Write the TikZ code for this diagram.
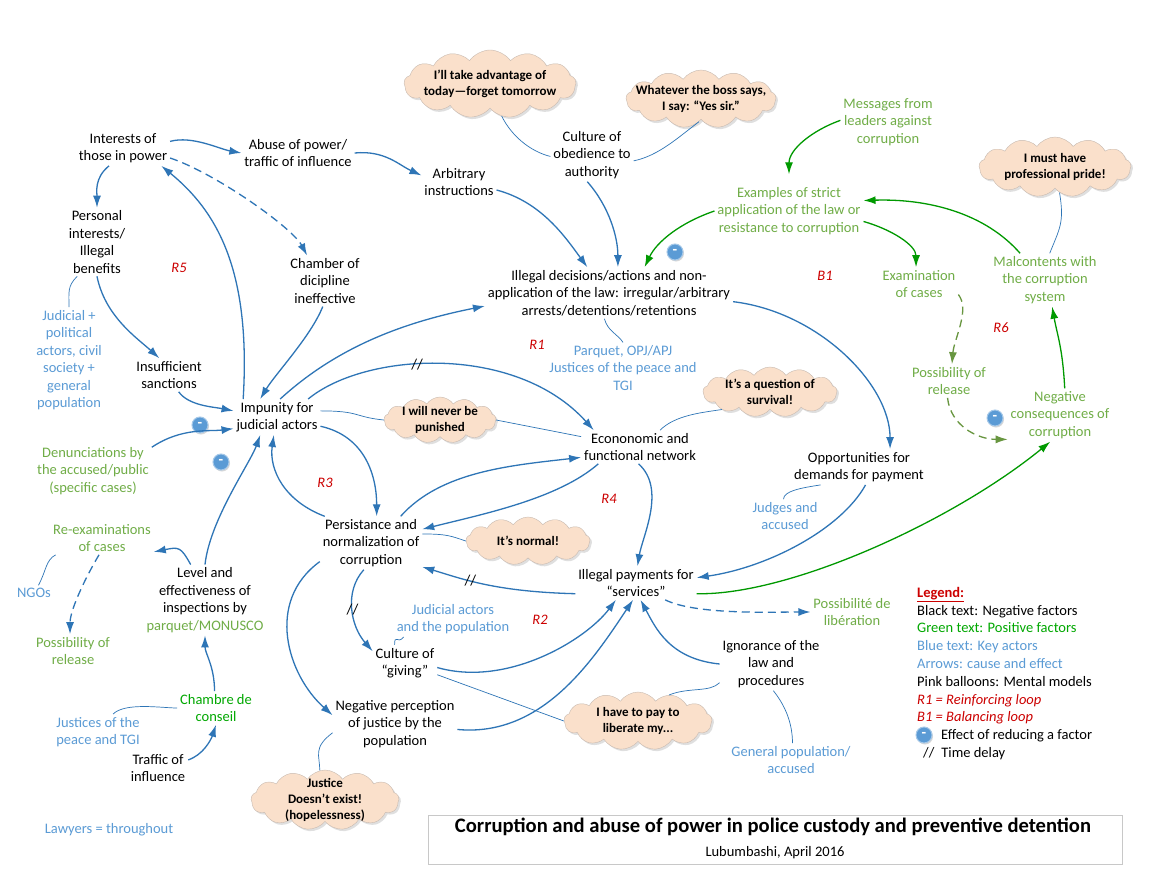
\documentclass[tikz,border=0pt]{standalone}
\usepackage{fontspec}
\setmainfont{Carlito}
\usepackage{tikz}
\usetikzlibrary{arrows.meta,shapes.symbols,shadows}
\definecolor{arrowblue}{RGB}{46,117,182}
\definecolor{actorblue}{RGB}{91,155,213}
\definecolor{goodgreen}{RGB}{112,173,71}
\definecolor{arrowgreen}{RGB}{0,153,0}
\definecolor{dashgreen}{RGB}{104,150,64}
\definecolor{brightgreen}{RGB}{0,168,0}
\definecolor{loopred}{RGB}{204,0,0}
\definecolor{balloonfill}{RGB}{250,224,203}
\definecolor{balloondraw}{RGB}{200,186,176}
\definecolor{boxgray}{RGB}{200,200,200}

\begin{document}
\begin{tikzpicture}[x=1pt, y=-1pt,
	factor/.style={align=center, font=\fontsize{14.5}{17.5}\selectfont, inner sep=1pt, outer sep=2pt},
	good/.style={factor, text=goodgreen},
	actor/.style={factor, text=actorblue},
	looplabel/.style={font=\fontsize{14.5}{17.5}\selectfont\itshape, text=loopred},
	balloon/.style={cloud, cloud puffs=13, cloud puff arc=110, cloud ignores aspect, draw=balloondraw, fill=balloonfill, align=center, inner xsep=-20pt, inner ysep=-12pt, font=\bfseries\fontsize{13}{16}\selectfont, drop shadow={shadow xshift=2pt, shadow yshift=-2pt, opacity=0.25}},
	minusdot/.style={circle, fill=actorblue, draw=actorblue!55, line width=1pt, text=white, inner sep=0pt, minimum size=16pt, font=\bfseries\fontsize{15}{15}\selectfont, drop shadow={shadow xshift=1pt, shadow yshift=-1.5pt, opacity=0.3}},
	cause/.style={draw=arrowblue, line width=1.3pt, -{Latex[length=12pt,width=8pt]}},
	lag/.style={cause, dash pattern=on 8pt off 5pt},
	positive/.style={cause, draw=arrowgreen},
	tie/.style={draw=arrowblue, line width=0.7pt},
	delay/.style={inner sep=0pt, text=black, font=\fontsize{15}{15}\selectfont}]
	\path[use as bounding box, fill=white] (0,0) rectangle (1159,894);

	\node[factor] (interests) at (123,148) {Interests of\\those in power};
	\node[factor] (abuse) at (298,153) {Abuse of power/\\traffic of influence};
	\node[factor] (arbitrary) at (459,182) {Arbitrary\\instructions};
	\node[factor] (obedience) at (592,155) {Culture of\\obedience to\\authority};
	\node[factor] (personal) at (97,242) {Personal\\interests/\\Illegal\\benefits};
	\node[factor] (chamber) at (325,281) {Chamber of\\dicipline\\ineffective};
	\node[factor] (illegal) at (609,293) {Illegal decisions/actions and non-\\application of the law: irregular/arbitrary\\arrests/detentions/retentions};
	\node[factor] (insufficient) at (169,375) {Insufficient\\sanctions};
	\node[factor] (impunity) at (277,417) {Impunity for\\judicial actors};
	\node[factor] (network) at (640,447) {Econonomic and\\functional network};
	\node[factor] (demands) at (859,467) {Opportunities for\\demands for payment};
	\node[factor] (persistence) at (371,543) {Persistance and\\normalization of\\corruption};
	\node[factor] (inspections) at (205,600) {Level and\\effectiveness of\\inspections by\\\textcolor{goodgreen}{parquet/MONUSCO}};
	\node[factor] (payments) at (636,583) {Illegal payments for\\“services”};
	\node[factor] (giving) at (405,663) {Culture of\\“giving”};
	\node[factor] (ignorance) at (771,664) {Ignorance of the\\law and\\procedures};
	\node[factor] (perception) at (395,724) {Negative perception\\of justice by the\\population};
	\node[factor] (trafficinf) at (158,768) {Traffic of\\influence};

	\node[good] (messages) at (888,122) {Messages from\\leaders against\\corruption};
	\node[good] (examples) at (789,211) {Examples of strict\\application of the law or\\resistance to corruption};
	\node[good] (examination) at (919,284) {Examination\\of cases};
	\node[good] (malcontents) at (1045,280) {Malcontents with\\the corruption\\system};
	\node[good] (release1) at (949,381) {Possibility of\\release};
	\node[good] (consequences) at (1060,415) {Negative\\consequences of\\corruption};
	\node[good] (denunciations) at (93,471) {Denunciations by\\the accused/public\\(specific cases)};
	\node[good] (reexam) at (102,538) {Re-examinations\\of cases};
	\node[good] (release2) at (73,651) {Possibility of\\release};
	\node[good, text=brightgreen] (chambre) at (216,708) {Chambre de\\conseil};
	\node[good] (liberation) at (852,612) {Possibilité de\\libération};

	\node[actor] (judicial) at (69,360) {Judicial +\\political\\actors, civil\\society +\\general\\population};
	\node[actor] (parquet) at (623,368) {Parquet, OPJ/APJ\\Justices of the peace and\\TGI};
	\node[actor] (judges) at (785,516) {Judges and\\accused};
	\node[actor] (judactors) at (453,619) {Judicial actors\\and the population};
	\node[actor] (ngos) at (34,593) {NGOs};
	\node[actor] (justices) at (98,732) {Justices of the\\peace and TGI};
	\node[actor] (genpop) at (791,760) {General population/\\accused};
	\node[actor] (lawyers) at (109,830) {Lawyers = throughout};

	\node[looplabel] (R5) at (179,268) {R5};
	\node[looplabel] (R1) at (537,345) {R1};
	\node[looplabel] (B1) at (825,276) {B1};
	\node[looplabel] (R6) at (1001,328) {R6};
	\node[looplabel] (R3) at (325,483) {R3};
	\node[looplabel] (R4) at (609,499) {R4};
	\node[looplabel] (R2) at (540,620) {R2};

	\node[balloon, minimum width=172pt, minimum height=68pt] (advantage) at (490,84) {I’ll take advantage of\\today—forget tomorrow};
	\node[balloon, minimum width=150pt, minimum height=58pt] (yessir) at (701,99) {Whatever the boss says,\\I say: “Yes sir.”};
	\node[balloon, minimum width=152pt, minimum height=60pt] (pride) at (1055,167) {I must have\\professional pride!};
	\node[balloon, minimum width=112pt, minimum height=46pt] (unpunished) at (440,420) {I will never be\\punished};
	\node[balloon, minimum width=134pt, minimum height=50pt] (survival) at (770,392) {It’s a question of\\survival!};
	\node[balloon, minimum width=124pt, minimum height=48pt] (normal) at (528,541) {It’s normal!};
	\node[balloon, minimum width=148pt, minimum height=58pt] (liberate) at (638,721) {I have to pay to\\liberate my...};
	\node[balloon, minimum width=148pt, minimum height=60pt] (nojustice) at (325,800) {Justice\\Doesn’t exist!\\(hopelessness)};

	\node[minusdot] (minus1) at (200,425) {-};
	\node[minusdot] (minus2) at (221,462) {-};
	\node[minusdot] (minus3) at (675,252) {-};
	\node[minusdot] (minus4) at (995,418) {-};

	\draw[cause] (interests.8) .. controls +(22,-6) and +(-22,-4) .. (abuse.west);
	\draw[cause] (interests.232) .. controls +(-15,12) and +(0,-15) .. (personal.north);
	\draw[lag] (interests.-12) .. controls +(45,15) and +(-15,-28) .. (chamber.125);
	\draw[cause] (abuse.east) .. controls +(30,-3) and +(-22,-10) .. (arbitrary.170);
	\draw[cause] (arbitrary.-12) .. controls +(45,12) and +(-22,-30) .. (illegal.130);
	\draw[cause] (obedience.-100) .. controls +(22,25) and +(0,-30) .. (illegal.71);
	\draw[positive] (examples.west) .. controls +(-35,12) and +(12,-25) .. (illegal.36);
	\draw[positive] (messages.178) .. controls +(-28,10) and +(0,-25) .. ([yshift=10pt]examples.north);
	\draw[positive] (examples.-8) .. controls +(28,8) and +(0,-22) .. (examination.100);
	\draw[positive] (malcontents.133) .. controls +(-35,-40) and +(65,-2) .. (examples.8);
	\draw[lag, draw=dashgreen] (examination.-15) .. controls +(12,15) and +(2,-25) .. (release1.80);
	\draw[lag, draw=dashgreen] (release1.-95) .. controls +(3,28) and +(-30,0) .. (consequences.205);
	\draw[positive] (consequences.80) .. controls +(-2,-40) and +(5,28) .. (malcontents.-75);

	\draw[cause] (personal.south) .. controls +(8,40) and +(-22,-20) .. (insufficient.120);
	\draw[cause] (insufficient.-60) .. controls +(10,14) and +(-20,-4) .. (impunity.172);
	\draw[cause] (impunity.152) .. controls +(8,-130) and +(55,45) .. (interests.-25);
	\draw[cause] (chamber.-95) .. controls +(-12,30) and +(15,-25) .. (impunity.133);
	\draw[cause] (impunity.80) .. controls +(60,-55) and +(-75,15) .. (illegal.186);
	\draw[cause] (impunity.30) .. controls +(57,-47) and +(-78,-87) .. (network.160) node[delay, pos=0.42] {//};
	\draw[cause] (impunity.-12) .. controls +(45,10) and +(0,-40) .. (persistence.78);
	\draw[cause] (denunciations.22) .. controls +(30,-20) and +(-25,3) .. (impunity.195);
	\draw[cause] (inspections.north) .. controls +(5,-45) and +(-10,28) .. (impunity.-133);
	\draw[cause] (persistence.150) .. controls +(-40,-15) and +(-5,35) .. (impunity.-100);
	\draw[cause] (persistence.42) .. controls +(40,-45) and +(-70,8) .. (network.190);
	\draw[cause] (network.202) .. controls +(-40,35) and +(60,-15) .. (persistence.15);
	\draw[cause] (illegal.-4) .. controls +(85,10) and +(0,-65) .. (demands.30);
	\draw[cause] (network.-95) .. controls +(28,25) and +(5,-30) .. (payments.85);
	\draw[cause] (demands.-70) .. controls +(-25,45) and +(70,-10) .. (payments.5);
	\draw[positive] (payments.-10) .. controls +(92,2) and +(-98,80) .. (consequences.-110);
	\draw[lag] (payments.-30) .. controls +(30,15) and +(-40,0) .. (liberation.west);
	\draw[cause] (payments.190) .. controls +(-80,-2) and +(40,12) .. (persistence.-25) node[delay, pos=0.6] {//};
	\draw[cause] (persistence.-105) .. controls +(-20,22) and +(-22,-25) .. (giving.160) node[delay, pos=0.5] {//};
	\draw[cause] (persistence.200) .. controls +(-55,40) and +(-45,-40) .. (perception.172);
	\draw[cause] (giving.-8) .. controls +(70,20) and +(-30,40) .. (payments.-140);
	\draw[cause] (perception.-5) .. controls +(85,8) and +(-40,60) .. (payments.-100);
	\draw[cause] (ignorance.west) .. controls +(-50,-5) and +(15,28) .. (payments.-75);
	\draw[cause] (inspections.112) .. controls +(-10,-18) and +(25,-5) .. (reexam.-15);
	\draw[lag] (reexam.-100) .. controls +(-12,20) and +(0,-25) .. (release2.100);
	\draw[cause] (chambre.95) .. controls +(0,-25) and +(0,18) .. (inspections.south);
	\draw[cause] (trafficinf.15) .. controls +(15,-5) and +(-5,15) .. (chambre.south);

	\draw[tie] (advantage.-70) .. controls +(10,20) and +(-20,-5) .. (obedience.182);
	\draw[tie] (yessir.-95) .. controls +(-20,15) and +(25,-5) .. (obedience.-8);
	\draw[tie] (pride.-80) .. controls +(5,30) and +(10,-25) .. (malcontents.80);
	\draw[tie] (personal.-120) .. controls +(-10,10) and +(0,-15) .. (judicial.north);
	\draw[tie] (illegal.-100) .. controls +(3,12) and +(-5,-8) .. (parquet.north);
	\draw[tie] (impunity.8) .. controls +(40,0) and +(-30,-3) .. (unpunished.west);
	\draw[tie] (unpunished.east) -- (network.170);
	\draw[tie] (network.40) .. controls +(15,-15) and +(-20,3) .. (survival.200);
	\draw[tie] (demands.205) .. controls +(-20,3) and +(0,-8) .. (judges.95);
	\draw[tie] (persistence.10) .. controls +(25,0) and +(-15,-5) .. (normal.west);
	\draw[tie] (giving.-20) -- (liberate.180);
	\draw[tie] (liberate.40) .. controls +(20,-8) and +(-10,10) .. (ignorance.200);
	\draw[tie] (ignorance.-85) .. controls +(12,15) and +(0,-20) .. (genpop.85);
	\draw[tie] (giving.120) .. controls +(0,-12) and +(-6,8) .. (judactors.200);
	\draw[tie] (perception.188) .. controls +(-20,15) and +(0,-15) .. (nojustice.100);
	\draw[tie] (ngos.60) .. controls +(8,-15) and +(-10,5) .. (reexam.200);
	\draw[tie] (justices.50) .. controls +(12,-12) and +(-15,0) .. (chambre.west);

	\node[anchor=north west, align=left, inner sep=0pt, font=\fontsize{14.5}{17.8}\selectfont] (legend) at (917,587) {{\color{loopred}\bfseries\underline{Legend:}}\\
		Black text: Negative factors\\
		{\color{brightgreen}Green text: Positive factors}\\
		{\color{actorblue}Blue text: Key actors}\\
		{\color{actorblue}Arrows: cause and effect}\\
		Pink balloons: Mental models\\
		{\color{loopred}\itshape R1 = Reinforcing loop}\\
		{\color{loopred}\itshape B1 = Balancing loop}\\
		\hspace*{24pt}Effect of reducing a factor\\
		\hspace*{6pt}//\hspace*{7pt}Time delay};
	\node[minusdot] (minus5) at (924,735) {-};

	\node[draw=boxgray, line width=0.8pt, minimum width=694pt, minimum height=49pt, inner sep=0pt] (titlebox) at (775,839.5) {};
	\node[font=\bfseries\fontsize{20.6}{24}\selectfont] (title) at (773,827) {Corruption and abuse of power in police custody and preventive detention};
	\node[factor] (subtitle) at (775,853) {Lubumbashi, April 2016};
\end{tikzpicture}
\end{document}
